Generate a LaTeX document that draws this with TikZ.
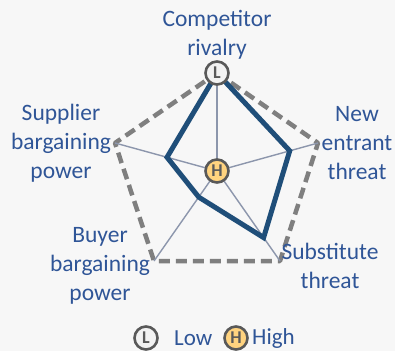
\documentclass[tikz,border=0pt]{standalone}
\usepackage{fontspec}
\setmainfont{Carlito}
\usetikzlibrary{calc}
\definecolor{labelblue}{HTML}{2F5597}
\definecolor{polyblue}{HTML}{1F4E79}
\definecolor{spokegray}{HTML}{8C96AC}
\definecolor{dashgray}{HTML}{7F7F7F}
\definecolor{markgray}{HTML}{595959}
\definecolor{highfill}{HTML}{FFD37F}
\definecolor{lowfill}{HTML}{F2F2F2}
\tikzset{
  axislabel/.style={text=labelblue, align=center, font=\fontsize{23.5}{29}\selectfont},
  legendtext/.style={text=labelblue, anchor=west, inner sep=0pt, font=\fontsize{23}{27}\selectfont},
  levelmark/.style={circle, draw=markgray, line width=2.6pt, minimum size=23pt, inner sep=0pt,
    text=markgray, font=\fontsize{18}{18}\selectfont\bfseries},
  spoke/.style={spokegray, line width=1.4pt},
  outline/.style={dashgray, line width=4.5pt, dash pattern=on 11pt off 6pt, line join=round},
  profile/.style={polyblue, line width=5pt, line join=miter},
}
\begin{document}
\begin{tikzpicture}[x=1pt, y=-1pt]
		%%%%% START %%%%%
		\fill[white!97!black] (0,0) rectangle (395,351);
		\useasboundingbox (0,0) rectangle (395,351);
		
		% pentagon corners
		\coordinate (ctr) at (217, 171);
		\coordinate (rivalry) at (217, 73);
		\coordinate (entrant) at (318, 143);
		\coordinate (substitute) at (280, 261);
		\coordinate (buyer) at (154, 261);
		\coordinate (supplier) at (115, 143);
		
		\draw[outline] (rivalry) -- (entrant) -- (substitute) -- (buyer) -- (supplier) -- cycle;
		
		\foreach \corner in {rivalry, entrant, substitute, buyer, supplier}
			\draw[spoke] (ctr) -- (\corner);
		
		% scores
		\draw[profile] (rivalry) -- ($(ctr)!0.72!(entrant)$) -- ($(ctr)!0.74!(substitute)$)
			-- ($(ctr)!0.29!(buyer)$) -- ($(ctr)!0.49!(supplier)$) -- cycle;
		
		\node[levelmark, fill=lowfill] (low) at (rivalry) {L};
		\node[levelmark, fill=highfill] (high) at (ctr) {H};
		
		% labels
		\node[axislabel] (lblrivalry) at (217, 35) {Competitor\\rivalry};
		\node[axislabel] (lblentrant) at (357, 143) {New\\entrant\\threat};
		\node[axislabel] (lblsubstitute) at (330, 266) {Substitute\\threat};
		\node[axislabel] (lblbuyer) at (100, 266) {Buyer\\bargaining\\power};
		\node[axislabel] (lblsupplier) at (61, 143) {Supplier\\bargaining\\power};
		
		% legend
		\node[levelmark, fill=lowfill] (keylow) at (146, 338) {L};
		\node[legendtext] (keylowtext) at (174, 338) {Low};
		\node[levelmark, fill=highfill] (keyhigh) at (236, 338) {H};
		\node[legendtext] (keyhightext) at (252, 338) {High};
		%%%%% END %%%%%
\end{tikzpicture}
\end{document}
